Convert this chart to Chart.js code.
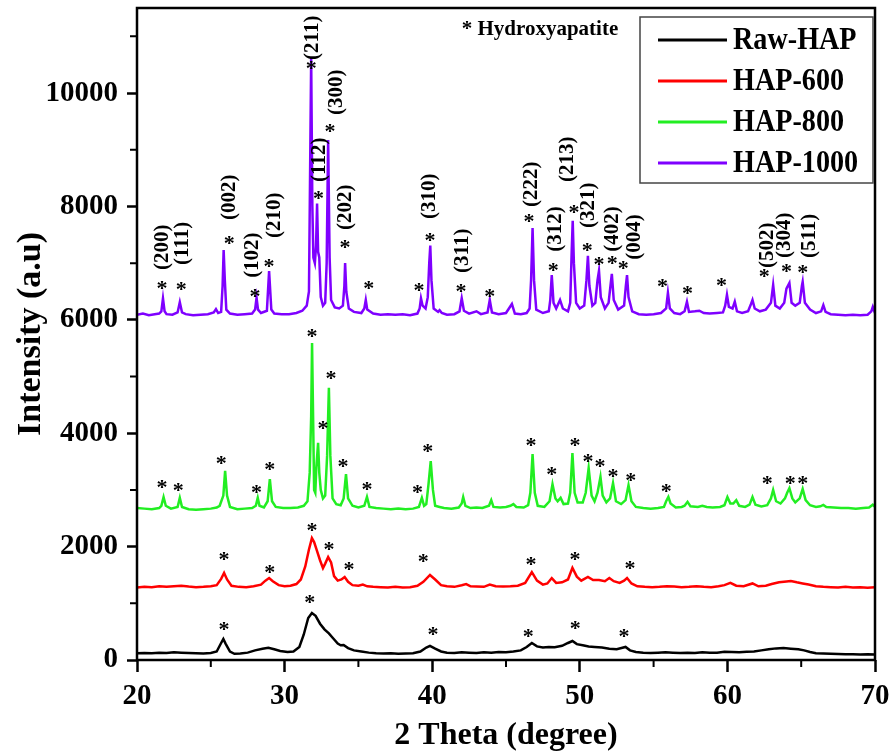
<!DOCTYPE html>
<html>
<head>
<meta charset="utf-8">
<script src="https://cdn.jsdelivr.net/npm/chart.js@4.4.0/dist/chart.umd.min.js"></script>
<style>
  html, body { margin: 0; padding: 0; background: #fff; }
  #wrap { width: 895px; height: 755px; }
</style>
</head>
<body>
<div id="wrap"><canvas id="xrd"></canvas></div>
<script>
// series names and colours
const seriesNames = ['Raw-HAP', 'HAP-600', 'HAP-800', 'HAP-1000'];
const seriesColors = ['#000000', '#ff0000', '#22ee22', '#7f00ff'];

// axis ticks
const xTicks = [20, 30, 40, 50, 60, 70];
const yTicks = [0, 2000, 4000, 6000, 8000, 10000];

// patterns: [2 theta, intensity]
const rawHap = [
  [20.0,120],[20.5,125],[21.0,120],[21.5,130],[22.0,125],[22.5,135],[23.0,130],[23.5,125],[24.0,120],[24.5,115],
  [25.0,125],[25.4,150],[25.7,300],[25.85,370],[26.0,290],[26.3,150],[26.6,110],[27.0,115],[27.5,130],[28.0,170],
  [28.5,200],[28.9,215],[29.3,190],[29.7,160],[30.2,140],[30.6,150],[31.0,230],[31.3,450],[31.6,740],[31.85,830],
  [32.1,780],[32.4,640],[32.7,540],[33.0,470],[33.3,380],[33.6,290],[33.8,260],[34.0,265],[34.3,210],[34.7,170],
  [35.2,150],[35.7,130],[36.2,120],[36.7,115],[37.2,120],[37.7,110],[38.2,115],[38.7,120],[39.2,150],[39.6,220],
  [39.85,250],[40.2,200],[40.6,150],[41.0,130],[41.5,125],[42.0,135],[42.5,130],[43.0,125],[43.5,135],[44.0,130],
  [44.5,140],[45.0,135],[45.5,150],[46.0,170],[46.4,230],[46.75,300],[47.1,240],[47.5,220],[47.9,230],[48.3,225],
  [48.8,250],[49.2,300],[49.5,335],[49.8,280],[50.2,260],[50.6,240],[51.0,230],[51.5,220],[52.0,200],[52.5,190],
  [53.1,230],[53.4,170],[53.8,140],[54.3,130],[54.8,125],[55.3,130],[55.8,135],[56.3,130],[56.8,125],[57.3,130],
  [57.8,125],[58.3,135],[58.8,130],[59.3,130],[59.8,145],[60.3,140],[60.8,135],[61.3,145],[61.8,150],[62.3,170],
  [62.8,190],[63.3,205],[63.8,210],[64.3,200],[64.8,190],[65.2,170],[65.6,140],[66.0,120],[66.5,115],[67.0,110],
  [67.5,105],[68.0,100],[68.5,100],[69.0,95],[69.5,100],[70.0,95]
];

const hap600 = [
  [20.0,1280],[20.5,1290],[21.0,1285],[21.5,1300],[22.0,1290],[22.5,1300],[23.0,1310],[23.5,1295],[24.0,1285],[24.5,1290],
  [25.0,1300],[25.4,1320],[25.7,1430],[25.9,1535],[26.1,1420],[26.4,1310],[26.9,1290],[27.4,1285],[27.9,1300],[28.4,1330],
  [28.7,1400],[28.95,1445],[29.2,1390],[29.6,1320],[30.0,1300],[30.4,1310],[30.8,1340],[31.1,1420],[31.4,1650],[31.65,1950],
  [31.85,2150],[32.0,2080],[32.2,1920],[32.4,1760],[32.6,1620],[32.75,1700],[32.95,1815],[33.15,1720],[33.35,1480],[33.6,1400],
  [33.85,1420],[34.07,1465],[34.3,1380],[34.6,1320],[35.0,1310],[35.3,1330],[35.6,1300],[36.0,1290],[36.5,1285],[37.0,1280],
  [37.5,1290],[38.0,1280],[38.5,1285],[39.0,1310],[39.4,1380],[39.85,1500],[40.2,1420],[40.6,1320],[41.0,1300],[41.5,1290],
  [42.0,1320],[42.3,1340],[42.6,1300],[43.0,1295],[43.5,1290],[43.9,1330],[44.3,1300],[44.8,1295],[45.3,1300],[45.8,1310],
  [46.3,1360],[46.75,1550],[47.1,1400],[47.5,1330],[47.8,1350],[48.1,1445],[48.4,1360],[48.8,1370],[49.2,1420],[49.5,1625],
  [49.8,1470],[50.1,1400],[50.55,1465],[50.9,1410],[51.3,1410],[51.7,1390],[52.0,1445],[52.3,1390],[52.7,1360],[53.0,1400],
  [53.2,1445],[53.5,1350],[53.9,1300],[54.4,1290],[54.9,1285],[55.4,1290],[55.9,1300],[56.4,1295],[56.9,1285],[57.4,1290],
  [57.9,1300],[58.4,1290],[58.9,1285],[59.4,1300],[59.8,1320],[60.2,1360],[60.6,1310],[61.1,1300],[61.7,1350],[62.1,1300],
  [62.6,1310],[63.0,1340],[63.5,1370],[64.0,1385],[64.3,1395],[64.7,1370],[65.1,1350],[65.5,1330],[66.0,1300],[66.5,1290],
  [67.0,1285],[67.5,1280],[68.0,1290],[68.5,1280],[69.0,1285],[69.5,1275],[70.0,1285]
];

const hap800 = [
  [20.0,2680],[20.5,2670],[21.0,2660],[21.5,2680],[21.65,2720],[21.8,2875],[21.95,2720],[22.3,2670],[22.75,2700],[22.9,2860],
  [23.05,2700],[23.5,2660],[24.0,2650],[24.5,2660],[25.0,2670],[25.4,2690],[25.6,2720],[25.85,2900],[25.97,3335],[26.1,2900],
  [26.3,2700],[26.8,2660],[27.3,2670],[27.8,2680],[28.05,2720],[28.18,2860],[28.3,2720],[28.6,2690],[28.85,2800],[29.0,3190],
  [29.15,2800],[29.4,2700],[29.9,2680],[30.4,2680],[30.9,2690],[31.3,2720],[31.55,2800],[31.7,3300],[31.8,4300],[31.86,5590],
  [31.93,4300],[32.0,3000],[32.08,2950],[32.15,3400],[32.27,3830],[32.35,3300],[32.45,3000],[32.6,2850],[32.75,2900],[32.88,3600],
  [33.0,4800],[33.1,3600],[33.25,2850],[33.5,2750],[33.8,2730],[34.0,2850],[34.16,3280],[34.3,2850],[34.6,2720],[35.0,2690],
  [35.4,2720],[35.58,2875],[35.75,2700],[36.2,2680],[36.7,2670],[37.2,2660],[37.7,2670],[38.2,2660],[38.7,2670],[39.1,2700],
  [39.3,2860],[39.45,2720],[39.6,2750],[39.75,3100],[39.9,3510],[40.05,3000],[40.2,2720],[40.5,2700],[40.8,2680],[41.3,2670],
  [41.8,2690],[42.0,2760],[42.1,2875],[42.25,2720],[42.6,2680],[43.0,2690],[43.4,2680],[43.85,2720],[44.0,2820],[44.15,2700],
  [44.6,2690],[45.0,2700],[45.3,2720],[45.5,2750],[45.7,2700],[46.2,2690],[46.5,2730],[46.65,2950],[46.8,3630],[46.95,2950],
  [47.15,2720],[47.6,2700],[47.95,2800],[48.15,3100],[48.35,2850],[48.5,2800],[48.7,2860],[48.9,2750],[49.2,2760],[49.35,2950],
  [49.5,3650],[49.65,2950],[49.85,2780],[50.2,2780],[50.4,2950],[50.6,3385],[50.8,2900],[51.0,2800],[51.2,2950],[51.4,3230],
  [51.55,2900],[51.8,2780],[52.05,2850],[52.25,3120],[52.45,2800],[52.8,2750],[53.1,2820],[53.3,3085],[53.5,2800],[53.8,2700],
  [54.3,2680],[54.8,2670],[55.3,2680],[55.7,2700],[55.85,2800],[56.0,2875],[56.15,2760],[56.5,2690],[56.9,2700],[57.1,2720],
  [57.3,2790],[57.5,2710],[58.0,2700],[58.3,2720],[58.6,2700],[59.0,2690],[59.5,2700],[59.8,2730],[60.0,2875],[60.2,2760],
  [60.4,2760],[60.6,2820],[60.8,2720],[61.2,2700],[61.5,2740],[61.7,2875],[61.9,2740],[62.3,2710],[62.7,2730],[62.95,2850],
  [63.1,3000],[63.3,2800],[63.6,2760],[63.9,2850],[64.05,2950],[64.2,3030],[64.4,2850],[64.6,2780],[64.9,2850],[65.1,3015],
  [65.3,2820],[65.6,2730],[66.0,2700],[66.3,2710],[66.5,2735],[66.7,2700],[67.2,2690],[67.7,2680],[68.2,2680],[68.7,2670],
  [69.2,2680],[69.6,2690],[69.85,2740],[70.0,2700]
];

const hap1000 = [
  [20.0,6090],[20.4,6110],[20.8,6080],[21.2,6100],[21.5,6110],[21.65,6150],[21.76,6380],[21.87,6150],[22.0,6100],[22.4,6090],
  [22.75,6130],[22.9,6310],[23.05,6130],[23.3,6100],[23.8,6080],[24.3,6090],[24.8,6100],[25.2,6130],[25.35,6190],[25.5,6120],
  [25.7,6140],[25.8,6600],[25.87,7230],[25.95,6700],[26.05,6180],[26.3,6110],[26.8,6090],[27.3,6100],[27.8,6110],[28.0,6180],
  [28.1,6390],[28.2,6180],[28.4,6120],[28.8,6160],[28.95,6860],[29.1,6180],[29.3,6110],[29.8,6100],[30.3,6100],[30.8,6120],
  [31.2,6160],[31.5,6250],[31.65,6500],[31.72,8400],[31.8,10620],[31.88,8000],[31.95,7100],[32.05,7000],[32.13,7300],[32.2,8050],
  [32.27,7200],[32.35,7100],[32.45,6400],[32.6,6250],[32.75,6300],[32.85,7000],[32.95,9170],[33.05,7100],[33.15,6350],[33.4,6220],
  [33.7,6200],[33.95,6250],[34.05,6600],[34.1,7000],[34.18,6500],[34.35,6200],[34.7,6140],[35.2,6120],[35.4,6200],[35.5,6350],
  [35.6,6180],[36.0,6110],[36.5,6090],[37.0,6100],[37.5,6090],[38.0,6100],[38.5,6080],[39.0,6110],[39.15,6200],[39.24,6380],
  [39.35,6250],[39.55,6200],[39.7,6400],[39.8,7000],[39.87,7310],[39.95,6700],[40.1,6200],[40.4,6140],[40.5,6170],[40.65,6120],
  [41.0,6090],[41.5,6100],[41.85,6150],[42.0,6380],[42.15,6160],[42.5,6110],[43.0,6150],[43.3,6100],[43.75,6130],[43.9,6350],
  [44.05,6130],[44.5,6100],[45.0,6120],[45.4,6280],[45.6,6110],[46.0,6100],[46.4,6120],[46.6,6200],[46.7,6700],[46.8,7620],
  [46.9,6700],[47.05,6180],[47.5,6120],[47.9,6150],[48.0,6350],[48.1,6790],[48.22,6300],[48.4,6200],[48.66,6350],[48.85,6200],
  [49.2,6150],[49.35,6300],[49.45,7200],[49.52,7745],[49.6,7000],[49.75,6300],[50.0,6200],[50.3,6250],[50.45,6700],[50.55,7130],
  [50.65,6600],[50.85,6250],[51.05,6300],[51.2,6700],[51.3,6865],[51.42,6400],[51.7,6200],[51.95,6300],[52.1,6650],[52.17,6810],
  [52.3,6350],[52.6,6180],[53.0,6250],[53.12,6600],[53.2,6790],[53.3,6400],[53.55,6150],[54.0,6100],[54.5,6090],[55.0,6100],
  [55.5,6120],[55.85,6200],[55.97,6475],[56.1,6200],[56.4,6120],[56.8,6100],[57.1,6150],[57.26,6320],[57.4,6140],[57.8,6150],
  [58.1,6160],[58.4,6120],[58.8,6110],[59.3,6120],[59.7,6130],[59.85,6250],[59.97,6440],[60.1,6230],[60.35,6200],[60.5,6320],
  [60.65,6150],[61.0,6120],[61.4,6150],[61.6,6280],[61.7,6350],[61.85,6200],[62.2,6150],[62.6,6180],[62.95,6300],[63.1,6615],
  [63.25,6250],[63.55,6200],[63.85,6300],[64.0,6550],[64.2,6650],[64.35,6300],[64.6,6250],[64.9,6300],[65.05,6600],[65.1,6670],
  [65.25,6300],[65.6,6180],[66.0,6120],[66.35,6150],[66.5,6260],[66.65,6140],[67.0,6100],[67.5,6090],[68.0,6080],[68.5,6090],
  [69.0,6080],[69.5,6090],[69.75,6150],[69.85,6230],[70.0,6120]
];

// asterisk marks (hydroxyapatite peaks): [2 theta, intensity]
const starsRaw = [[25.9,600],[31.7,1075],[40.05,510],[46.5,475],[49.7,617],[53.0,475]];
const stars600 = [[25.9,1835],[29.0,1605],[31.86,2345],[33.0,2010],[34.36,1660],[39.4,1800],[46.7,1745],[49.67,1835],[53.4,1675]];
const stars800 = [[21.7,3105],[22.8,3050],[25.7,3530],[28.1,3015],[29.0,3420],[31.86,5770],[32.6,4145],[33.14,5030],[33.96,3475],
  [35.58,3070],[39.0,3015],[39.7,3740],[46.7,3845],[48.1,3335],[49.67,3845],[50.55,3565],[51.37,3475],[52.25,3300],[53.45,3230],
  [55.85,3035],[62.7,3175],[64.25,3175],[65.1,3175]];
const stars1000 = [[21.7,6615],[23.0,6597],[26.25,7409],[27.99,6474],[28.95,7003],[31.8,10496],[32.3,8203],[33.07,9384],[34.1,7338],
  [35.7,6615],[39.1,6580],[39.85,7462],[41.95,6562],[43.9,6474],[46.56,7797],[48.2,6932],[49.6,7956],[50.5,7285],[51.3,7038],
  [52.2,7056],[52.95,6968],[55.6,6650],[57.3,6527],[59.6,6668],[62.5,6827],[64.0,6915],[65.1,6897]];

// Miller indices on HAP-1000: [2 theta, intensity at label foot, text]
const hklLabels = [
  [21.76,6880,'(200)'],[23.12,6968,'(111)'],[26.3,7760,'(002)'],[27.8,6740,'(102)'],[29.35,7444,'(210)'],
  [31.92,10585,'(211)'],[32.4,8432,'(112)'],[33.55,9614,'(300)'],[34.16,7585,'(202)'],[39.8,7780,'(310)'],
  [42.09,6827,'(311)'],[46.76,7991,'(222)'],[48.35,7200,'(312)'],[49.2,8432,'(213)'],[50.6,7620,'(321)'],
  [52.25,7200,'(402)'],[53.7,7060,'(004)'],[62.75,6915,'(502)'],[63.9,7091,'(304)'],[65.6,7091,'(511)']
];
const phaseNote = [42.0, 11113, '* Hydroxyapatite'];

const SERIF = "'Liberation Serif', 'Times New Roman', serif";
const toXY = arr => arr.map(p => ({ x: p[0], y: p[1] }));
const patterns = [rawHap, hap600, hap800, hap1000];
const starSets = [starsRaw, stars600, stars800, stars1000];

const decor = {
  id: 'decor',
  afterDatasetsDraw(chart) {
    const { ctx, chartArea: a, scales: { x, y } } = chart;
    ctx.save();

    // frame
    ctx.strokeStyle = '#000';
    ctx.lineWidth = 2.5;
    ctx.strokeRect(a.left, a.top, a.right - a.left, a.bottom - a.top);

    // minor ticks halfway between major ones
    ctx.lineWidth = 2;
    ctx.beginPath();
    for (let i = 0; i < xTicks.length - 1; i++) {
      const px = x.getPixelForValue((xTicks[i] + xTicks[i + 1]) / 2);
      ctx.moveTo(px, a.bottom); ctx.lineTo(px, a.bottom + 7);
    }
    const yStep = yTicks[1] - yTicks[0];
    for (let v = yTicks[0] + yStep / 2; v < y.max; v += yStep) {
      const py = y.getPixelForValue(v);
      ctx.moveTo(a.left, py); ctx.lineTo(a.left - 7, py);
    }
    ctx.stroke();

    // asterisks
    ctx.fillStyle = '#000';
    ctx.font = 'bold 22px ' + SERIF;
    ctx.textAlign = 'center';
    ctx.textBaseline = 'alphabetic';
    starSets.forEach(set => set.forEach(([tx, ty]) => {
      ctx.fillText('*', x.getPixelForValue(tx), y.getPixelForValue(ty) + 10);
    }));

    // hkl labels, rotated
    ctx.font = 'bold 21px ' + SERIF;
    ctx.textAlign = 'left';
    ctx.textBaseline = 'middle';
    hklLabels.forEach(([tx, ty, txt]) => {
      ctx.save();
      ctx.translate(x.getPixelForValue(tx), y.getPixelForValue(ty));
      ctx.rotate(-Math.PI / 2);
      ctx.fillText(txt, 0, 0);
      ctx.restore();
    });

    // phase note
    ctx.font = 'bold 21px ' + SERIF;
    ctx.fillText(phaseNote[2], x.getPixelForValue(phaseNote[0]), y.getPixelForValue(phaseNote[1]));

    // legend box
    const bw = 233, bh = 166;
    const bl = a.right - bw - 2, bt = a.top + 9;
    ctx.fillStyle = '#fff';
    ctx.fillRect(bl, bt, bw, bh);
    ctx.strokeStyle = '#444';
    ctx.lineWidth = 1.5;
    ctx.strokeRect(bl, bt, bw, bh);
    chart.data.datasets.forEach((ds, i) => {
      const yc = bt + 23 + i * 41;
      ctx.strokeStyle = ds.borderColor;
      ctx.lineWidth = 3;
      ctx.beginPath();
      ctx.moveTo(bl + 18, yc); ctx.lineTo(bl + 87, yc);
      ctx.stroke();
      ctx.save();
      ctx.translate(bl + 93, yc + 1);
      ctx.scale(0.88, 1);
      ctx.fillStyle = '#000';
      ctx.font = 'bold 32px ' + SERIF;
      ctx.textAlign = 'left';
      ctx.textBaseline = 'middle';
      ctx.fillText(ds.label, 0, 0);
      ctx.restore();
    });

    ctx.restore();
  }
};

new Chart(document.getElementById('xrd'), {
  type: 'line',
  data: {
    datasets: patterns.map((p, i) => ({
      label: seriesNames[i],
      data: toXY(p),
      borderColor: seriesColors[i],
      borderWidth: 2.5,
      pointRadius: 0,
      tension: 0,
      fill: false
    }))
  },
  options: {
    responsive: true,
    maintainAspectRatio: false,
    animation: false,
    layout: { padding: { left: 11, right: 20, top: 8, bottom: 0 } },
    plugins: { legend: { display: false }, tooltip: { enabled: false } },
    scales: {
      x: {
        type: 'linear',
        min: 20,
        max: 70,
        afterBuildTicks: s => { s.ticks = xTicks.map(v => ({ value: v })); },
        afterFit: s => { s.height = 95; s.paddingLeft = 0; s.paddingRight = 0; },
        border: { display: false },
        grid: { drawOnChartArea: false, tickLength: 12, tickWidth: 2.5, tickColor: '#000' },
        ticks: { color: '#000', padding: 7, callback: v => String(v),
                 font: { family: SERIF, size: 29, weight: 'bold' } },
        title: { display: true, text: '2 Theta (degree)', color: '#000', padding: 0,
                 font: { family: SERIF, size: 32, weight: 'bold' } }
      },
      y: {
        min: 0,
        max: 11500,
        afterBuildTicks: s => { s.ticks = yTicks.map(v => ({ value: v })); },
        afterFit: s => { s.width = 126; s.paddingTop = 0; s.paddingBottom = 0; },
        border: { display: false },
        grid: { drawOnChartArea: false, tickLength: 10, tickWidth: 2.5, tickColor: '#000' },
        ticks: { color: '#000', padding: 9, callback: v => String(v),
                 font: { family: SERIF, size: 29, weight: 'bold' } },
        title: { display: true, text: 'Intensity (a.u)', color: '#000', padding: 0,
                 font: { family: SERIF, size: 34, weight: 'bold' } }
      }
    }
  },
  plugins: [decor]
});
</script>
</body>
</html>
